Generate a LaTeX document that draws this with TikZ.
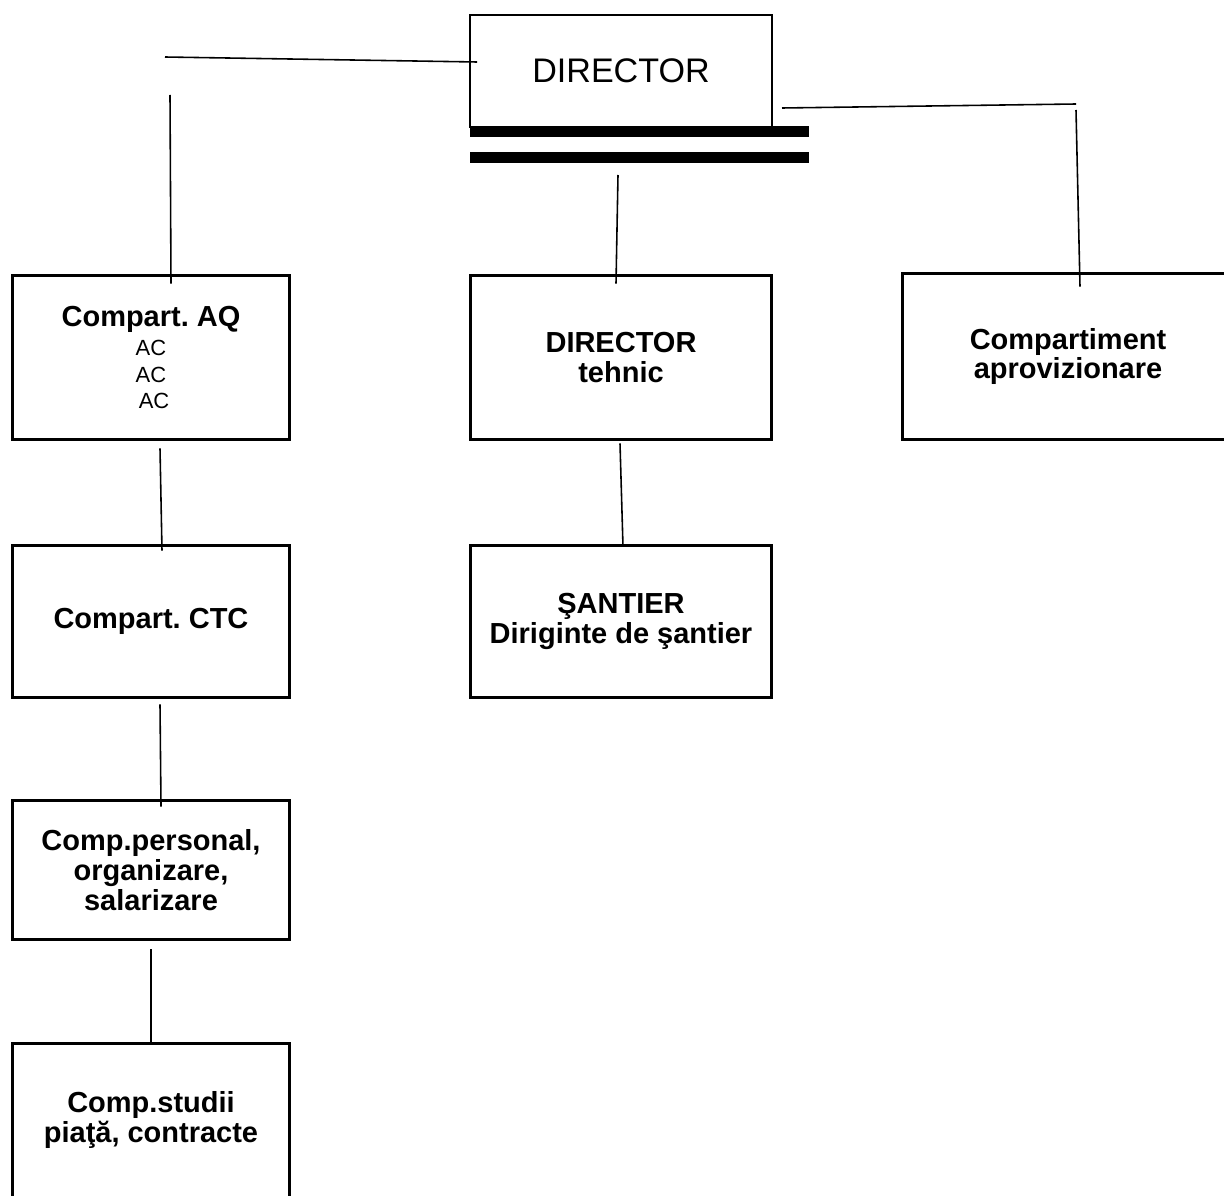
\documentclass[tikz,border=0pt]{standalone}
\usepackage{fontspec}
\setmainfont{Liberation Sans}
\usetikzlibrary{positioning}
\tikzset{
  box/.style={draw,rectangle,line width=1.7pt,inner sep=0pt,align=center,
    font=\fontsize{16.5}{17}\selectfont\bfseries},
  narrow/.style={box,minimum width=5.56cm},
  wide/.style={box,minimum width=6.04cm},
  bar/.style={fill=black,rectangle,inner sep=0pt,minimum width=6.78cm,minimum height=0.22cm},
  link/.style={line width=0.9pt}
}
\newcommand{\aclines}{\fontsize{12.5}{15.3}\selectfont}
\frenchspacing

\begin{document}
\begin{tikzpicture}[x=0.02cm,y=-0.02cm]
    \useasboundingbox (0,0) rectangle (1224,1196);
    \clip (0,0) rectangle (1224,1196);
    % top
    \node[draw,line width=1.1pt,minimum width=6.04cm,minimum height=2.24cm,
      font=\fontsize{19.4}{23}\selectfont] (dir) at (621,71) {DIRECTOR};
    \node[bar] (bar1) at (639.5,131.5) {};
    \node[bar] (bar2) at (639.5,157.5) {};
    % left column
    \node[narrow,minimum height=3.3cm,font=\aclines] (aq) at (151,357.5)
      {{\fontsize{16.5}{17}\selectfont\bfseries Compart. AQ}\\[1.2pt] AC\\ AC\\ \hspace*{0.28em}AC};
    \node[narrow,minimum height=3.06cm] (ctc) at (151,621.5) {Compart. CTC};
    \node[narrow,minimum height=2.8cm] (pers) at (151,870) {Comp.personal,\\ organizare,\\ salarizare};
    \node[narrow,minimum height=3.08cm] (stud) at (151,1120) {Comp.studii\\ piaţă, contracte};
    % middle column
    \node[wide,minimum height=3.3cm] (teh) at (621,357.5) {DIRECTOR\\ tehnic};
    \node[wide,minimum height=3.06cm] (sant) at (621,621.5) {ŞANTIER\\ Diriginte de şantier};
    % right column
    \node[box,minimum width=6.64cm,minimum height=3.34cm] (apr) at (1068,356.5) {Compartiment\\ aprovizionare};
    % free ends
    \coordinate (l1) at (165,57);
    \coordinate (l2) at (170,95);
    \coordinate (r1) at (782,108);
    \coordinate (r2) at (1076,104);
    \coordinate (r3) at (1076,110);
    \coordinate (m1) at (618,175);
    \draw[link] (l1) -- ([shift={(8,-9)}]dir.west);
    \draw[link] (l2) -- ([shift={(20,10)}]aq.north);
    \draw[link] (r1) -- (r2);
    \draw[link] (r3) -- ([shift={(12,15)}]apr.north);
    \draw[link] (m1) -- ([shift={(-5,10)}]teh.north);
    \draw[link] ([shift={(9,7)}]aq.south) -- ([shift={(11,7)}]ctc.north);
    \draw[link] ([shift={(9,5)}]ctc.south) -- ([shift={(10,8)}]pers.north);
    \draw[link] ([shift={(0,8)}]pers.south) -- (stud.north);
    \draw[link] ([shift={(-1,2)}]teh.south) -- ([shift={(2,3)}]sant.north);
\end{tikzpicture}
\end{document}
